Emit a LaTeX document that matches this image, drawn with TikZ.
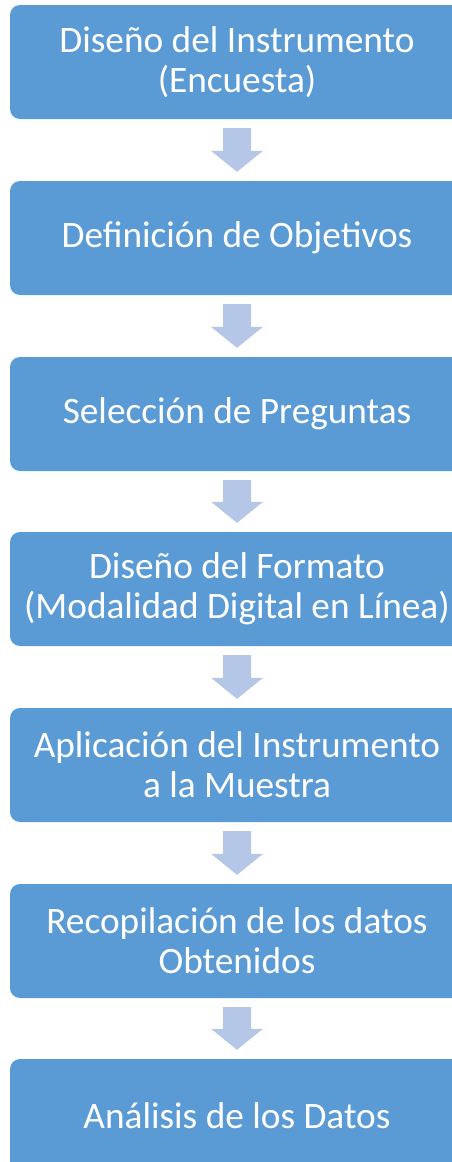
\documentclass[tikz,border=0pt]{standalone}
\usepackage{fontspec}
\setmainfont{Carlito}
\usepackage{tikz}
\usetikzlibrary{calc,positioning}
\definecolor{stageblue}{RGB}{91,155,213}
\definecolor{flowblue}{RGB}{180,199,231}
\tikzset{
    stagebox/.style={rectangle, rounded corners=10pt, fill=stageblue, text=white,
        minimum width=454pt, minimum height=114pt, align=center, inner sep=0pt,
        font=\fontsize{37.3}{40}\selectfont},
    flowarrow/.style={fill=flowblue, draw=none}
}

\begin{document}
\begin{tikzpicture}[x=1pt,y=1pt,yscale=-1,xscale=1]
\useasboundingbox (0,0) rectangle (452,1162);
%Stages
\node [stagebox] (s1) at (237,62) {Diseño del Instrumento\\(Encuesta)};
\node [stagebox] (s2) at (237,238) {Definición de Objetivos};
\node [stagebox] (s3) at (237,414) {Selección de Preguntas};
\node [stagebox] (s4) at (237,589) {Diseño del Formato\\(Modalidad Digital en Línea)};
\node [stagebox] (s5) at (237,765) {Aplicación del Instrumento\\a la Muestra};
\node [stagebox] (s6) at (237,941) {Recopilación de los datos\\Obtenidos};
\node [stagebox] (s7) at (237,1116) {Análisis de los Datos};
%Block arrows
\foreach \a/\b in {s1/s2,s2/s3,s3/s4,s4/s5,s5/s6,s6/s7}{
    \fill [flowarrow] ($(\a.south)+(-14,9)$) -- ($(\a.south)+(14,9)$)
        -- ($(\b.north)+(14,-30)$) -- ($(\b.north)+(26,-30)$)
        -- ($(\b.north)+(0,-9)$) -- ($(\b.north)+(-26,-30)$)
        -- ($(\b.north)+(-14,-30)$) -- cycle;
}
\end{tikzpicture}
\end{document}
